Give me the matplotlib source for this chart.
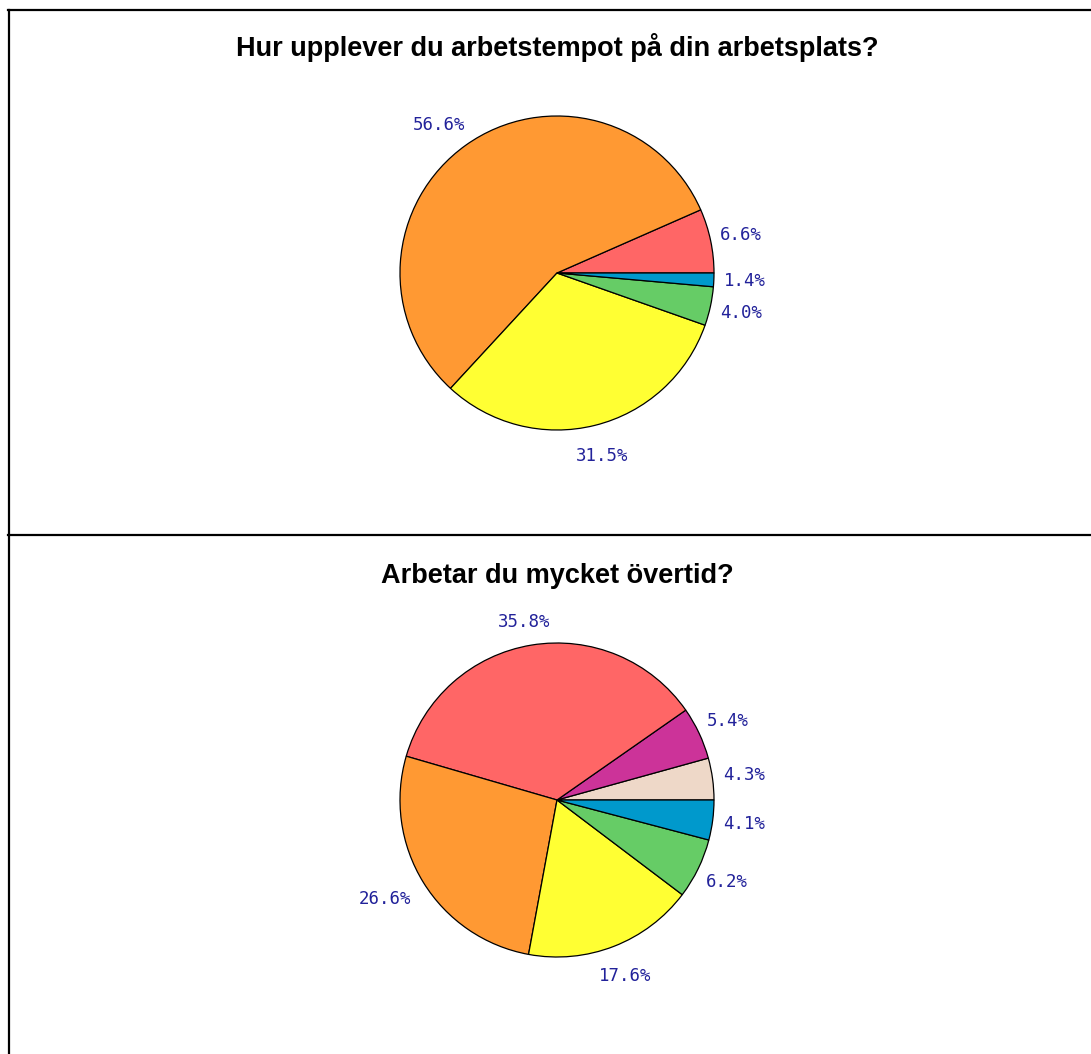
import matplotlib
matplotlib.use("Agg")
import numpy as np
import matplotlib.pyplot as plt
from matplotlib.lines import Line2D

# ---- data ----
title1 = "Hur upplever du arbetstempot på din arbetsplats?"
values1 = [6.6, 56.6, 31.5, 4.0, 1.4]
colors1 = ["#FF6666", "#FF9933", "#FFFF33", "#66CC66", "#0099CC"]

title2 = "Arbetar du mycket övertid?"
values2 = [4.3, 5.4, 35.8, 26.6, 17.6, 6.2, 4.1]
colors2 = ["#EED8C8", "#CC3399", "#FF6666", "#FF9933", "#FFFF33", "#66CC66", "#0099CC"]

W, H = 1091, 1054
fig = plt.figure(figsize=(W / 100, H / 100), dpi=100)
fig.patch.set_facecolor("white")

R = 157.0   # pie radius in px
HALF = 250  # half-size of each axes in px
LABEL_COLOR = "#22229A"


def draw_pie(cx, cy, values, colors, title, ty):
    ax = fig.add_axes([(cx - HALF) / W, 1 - (cy + HALF) / H, 2 * HALF / W, 2 * HALF / H])
    labels = [f"{v:.1f}%" for v in values]
    wedges, texts = ax.pie(values, colors=colors, startangle=0, counterclock=True,
                           labels=labels, labeldistance=1.2,
                           wedgeprops=dict(edgecolor="black", linewidth=0.9),
                           textprops=dict(color=LABEL_COLOR, fontsize=12.5,
                                          family="DejaVu Sans Mono"))
    for w, t in zip(wedges, texts):
        mid = np.deg2rad((w.theta1 + w.theta2) / 2)
        c, s = np.cos(mid), np.sin(mid)
        x, y = 1.2 * c, 1.2 * s
        if c < 0:
            x -= 14 * abs(c) / R
        if s > 0:
            y -= 8 * s * s / R
        t.set_position((x, y))
        t.set_ha("center")
        t.set_va("center")
    lim = HALF / R
    ax.set_xlim(-lim, lim)
    ax.set_ylim(-lim, lim)
    ax.axis("off")
    fig.text(cx / W, 1 - ty / H, title, ha="center", va="center",
             fontsize=19.5, fontweight="bold", family="Liberation Sans", color="black")


draw_pie(557, 273, values1, colors1, title1, 48)
draw_pie(557, 800, values2, colors2, title2, 576)

# frame lines
def hline(y, x0, x1):
    fig.add_artist(Line2D([x0 / W, x1 / W], [1 - y / H, 1 - y / H], color="black",
                          linewidth=1.6, transform=fig.transFigure))

def vline(x, y0, y1):
    fig.add_artist(Line2D([x / W, x / W], [1 - y0 / H, 1 - y1 / H], color="black",
                          linewidth=1.6, transform=fig.transFigure))

hline(10, 8, W)
hline(535, 8, W)
vline(9, 10, H)

fig.savefig("out.png", dpi=100, facecolor="white")
